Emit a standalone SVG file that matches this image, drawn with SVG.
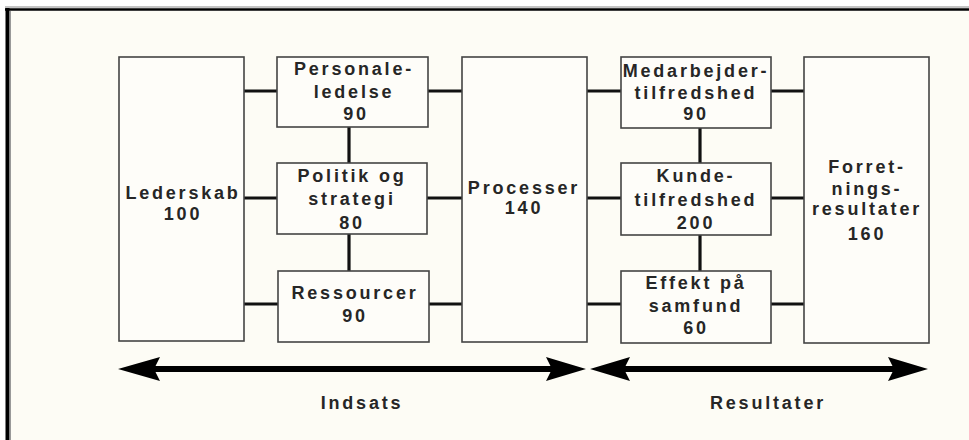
<svg xmlns="http://www.w3.org/2000/svg" width="969" height="440" viewBox="0 0 969 440">
<style>
.bg{fill:#fdfcf5}
.box{fill:#fefdf9;stroke:#444;stroke-width:1.6}
.con{stroke:#111;stroke-width:3.2;fill:none}
.t{font-family:"Liberation Sans",Arial,sans-serif;font-size:18px;font-weight:bold;letter-spacing:2.8px;fill:#262626;text-anchor:middle}
.axis{stroke:#000;stroke-width:6;fill:none}
.head{fill:#000}
</style>
<rect x="0" y="0" width="969" height="440" fill="#ffffff"/>
<rect class="bg" x="10" y="11" width="959" height="429"/>
<g id="frame">
<line x1="5" y1="7" x2="969" y2="7" stroke="#888" stroke-width="1"/>
<line x1="5" y1="9.5" x2="969" y2="9.5" stroke="#000" stroke-width="2.5"/>
<line x1="7.5" y1="8" x2="7.5" y2="440" stroke="#000" stroke-width="4"/>
<line x1="10.5" y1="11" x2="10.5" y2="440" stroke="#999" stroke-width="1"/>
</g>
<g id="connectors">
<line class="con" x1="244" y1="91" x2="277" y2="91"/>
<line class="con" x1="244" y1="198" x2="277" y2="198"/>
<line class="con" x1="244" y1="304" x2="278" y2="304"/>
<line class="con" x1="428" y1="91" x2="462" y2="91"/>
<line class="con" x1="427" y1="198" x2="462" y2="198"/>
<line class="con" x1="429" y1="304" x2="462" y2="304"/>
<line class="con" x1="349" y1="127" x2="349" y2="163"/>
<line class="con" x1="349" y1="234" x2="349" y2="271"/>
<line class="con" x1="587" y1="91" x2="621" y2="91"/>
<line class="con" x1="587" y1="198" x2="621" y2="198"/>
<line class="con" x1="587" y1="304" x2="621" y2="304"/>
<line class="con" x1="771" y1="91" x2="804" y2="91"/>
<line class="con" x1="771" y1="198" x2="804" y2="198"/>
<line class="con" x1="771" y1="304" x2="804" y2="304"/>
<line class="con" x1="700" y1="128" x2="700" y2="163"/>
<line class="con" x1="700" y1="235" x2="700" y2="271"/>
</g>
<g id="lederskab">
<rect class="box" x="119" y="57" width="125" height="284"/>
<text class="t" x="183" y="199">Lederskab</text>
<text class="t" x="183" y="220">100</text>
</g>
<g id="personaleledelse">
<rect class="box" x="277" y="57" width="151" height="70"/>
<text class="t" x="354" y="75">Personale-</text>
<text class="t" x="354" y="98">ledelse</text>
<text class="t" x="356" y="120">90</text>
</g>
<g id="politik">
<rect class="box" x="277" y="163" width="150" height="71"/>
<text class="t" x="352" y="182">Politik og</text>
<text class="t" x="352" y="205">strategi</text>
<text class="t" x="352" y="229">80</text>
</g>
<g id="ressourcer">
<rect class="box" x="278" y="271" width="151" height="71"/>
<text class="t" x="355" y="299">Ressourcer</text>
<text class="t" x="355" y="322">90</text>
</g>
<g id="processer">
<rect class="box" x="462" y="57" width="125" height="285"/>
<text class="t" x="524" y="194">Processer</text>
<text class="t" x="524" y="214">140</text>
</g>
<g id="medarbejder">
<rect class="box" x="621" y="57" width="150" height="71"/>
<text class="t" x="696" y="77">Medarbejder-</text>
<text class="t" x="696" y="99">tilfredshed</text>
<text class="t" x="696" y="120">90</text>
</g>
<g id="kunde">
<rect class="box" x="621" y="163" width="150" height="72"/>
<text class="t" x="696" y="182">Kunde-</text>
<text class="t" x="696" y="206">tilfredshed</text>
<text class="t" x="696" y="229">200</text>
</g>
<g id="samfund">
<rect class="box" x="621" y="271" width="150" height="72"/>
<text class="t" x="696" y="289">Effekt på</text>
<text class="t" x="696" y="312">samfund</text>
<text class="t" x="696" y="334">60</text>
</g>
<g id="forretning">
<rect class="box" x="804" y="57" width="125" height="286"/>
<text class="t" x="867" y="173">Forret-</text>
<text class="t" x="867" y="195">nings-</text>
<text class="t" x="867" y="215">resultater</text>
<text class="t" x="867" y="240">160</text>
</g>
<g id="indsats">
<line class="axis" x1="150" y1="369" x2="555" y2="369"/>
<polygon class="head" points="118,369 160,357 154,369 160,381"/>
<polygon class="head" points="586,369 546,357 552,369 546,381"/>
<text class="t" x="362" y="409">Indsats</text>
</g>
<g id="resultater">
<line class="axis" x1="620" y1="369" x2="895" y2="369"/>
<polygon class="head" points="590,369 630,357 624,369 630,381"/>
<polygon class="head" points="928,369 888,357 894,369 888,381"/>
<text class="t" x="768" y="409">Resultater</text>
</g>
</svg>
